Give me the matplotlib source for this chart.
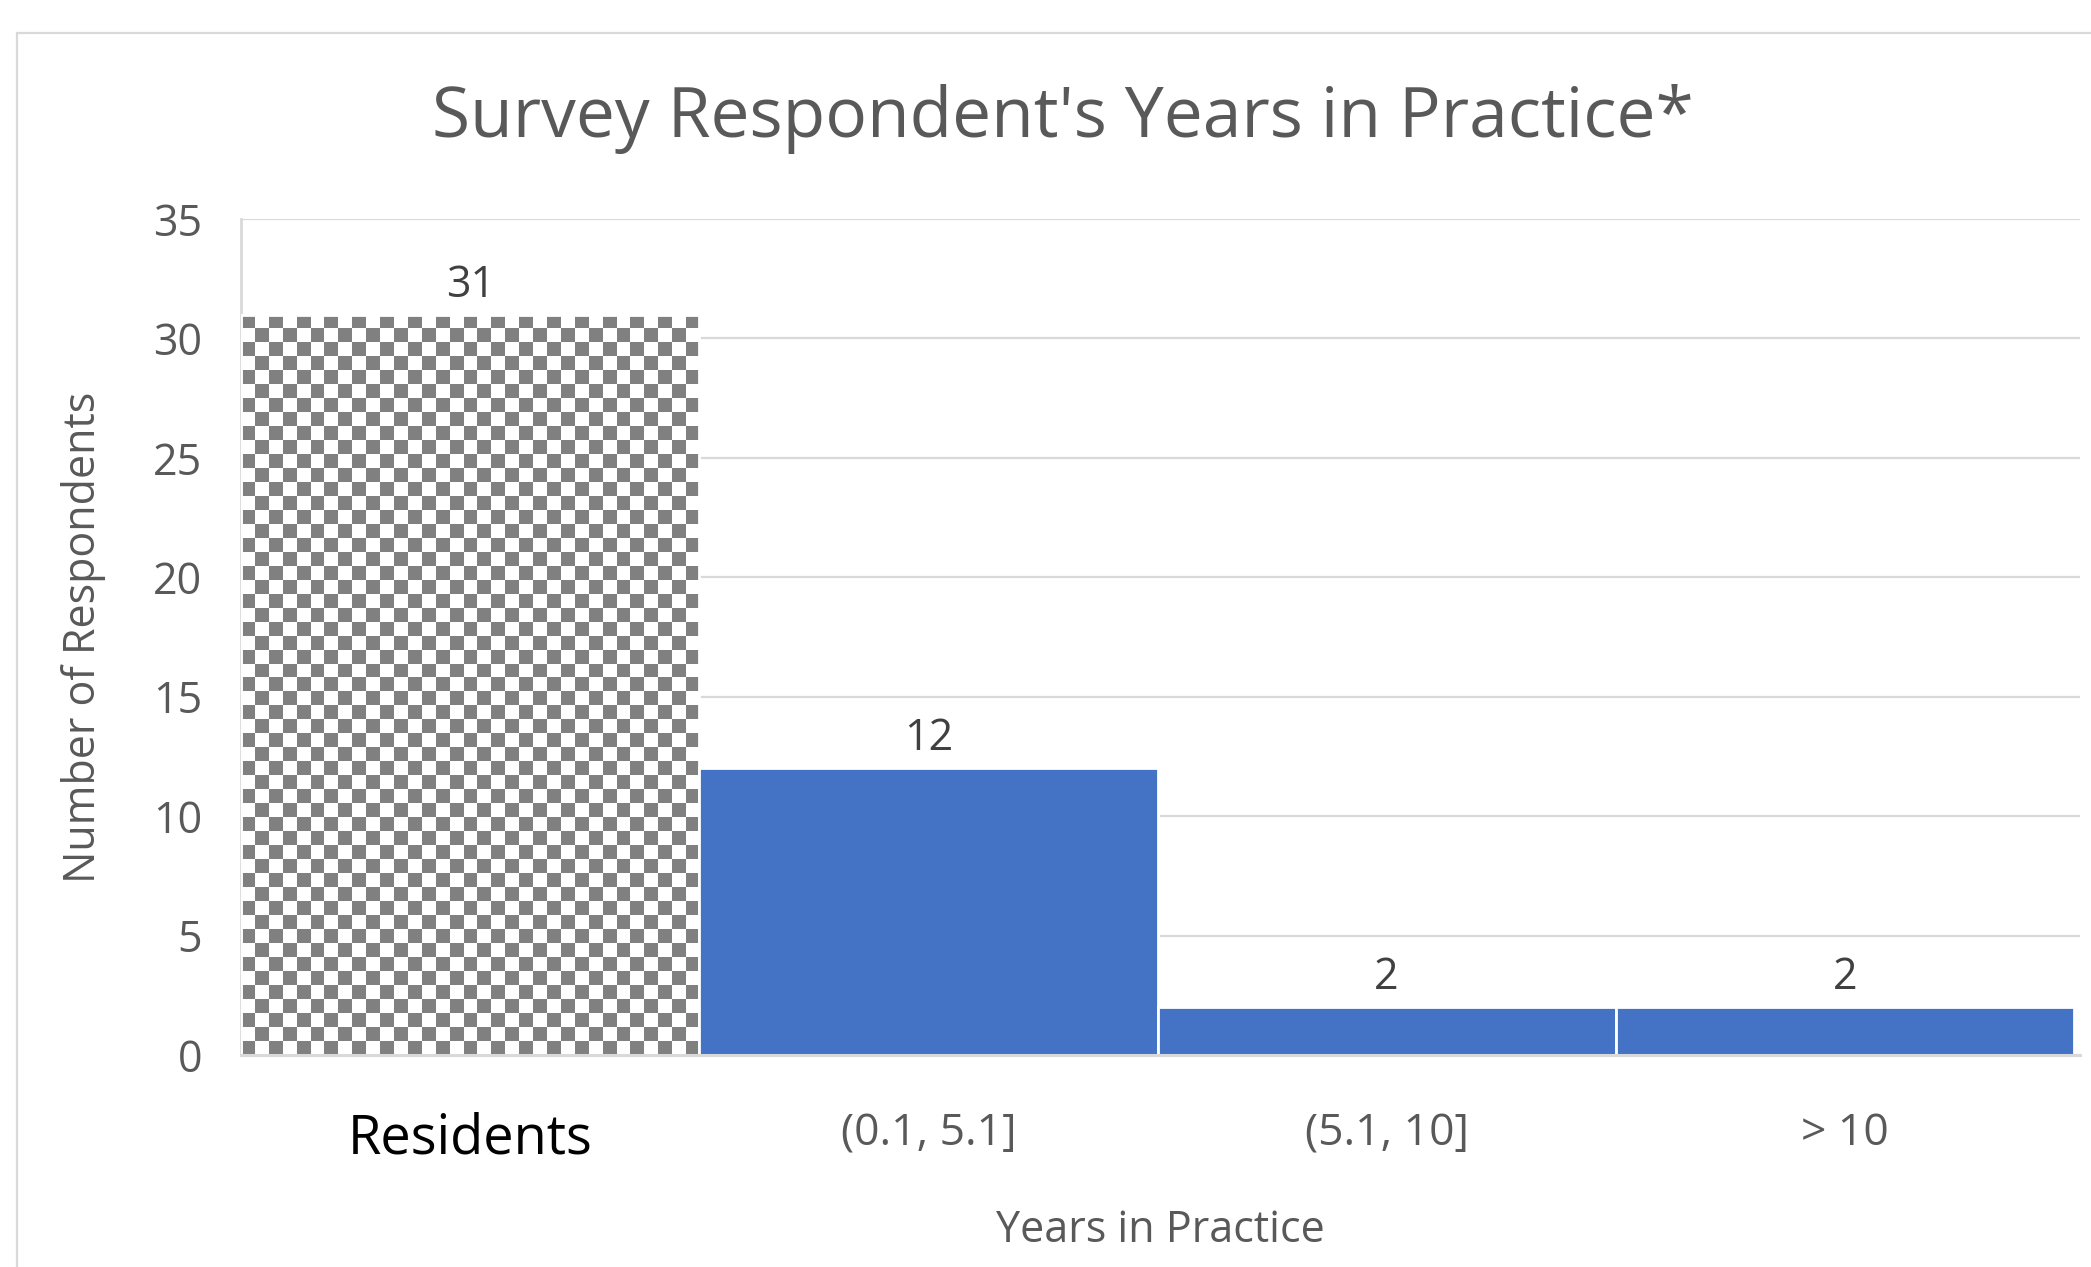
import matplotlib
matplotlib.use('Agg')
import matplotlib.pyplot as plt
from matplotlib.patches import Rectangle
import numpy as np

categories = ['Residents', '(0.1, 5.1]', '(5.1, 10]', '> 10']
counts = [31, 12, 2, 2]

plt.rcParams['font.family'] = ['Open Sans', 'DejaVu Sans']

fig = plt.figure(figsize=(20.91, 12.67), dpi=100)
ax = fig.add_axes([241 / 2091, 1 - 1055 / 1267, (2080 - 241) / 2091, (1055 - 219) / 1267])

# outer chart border, runs off the right / bottom like the screenshot
fig.patches.append(Rectangle((17 / 2091, -0.1), 1.2, 1 - 33 / 1267 + 0.1,
                             transform=fig.transFigure, fill=False,
                             edgecolor='#d9d9d9', linewidth=1.6))

x = np.arange(len(categories))
colors = ['none'] + ['#4472c4'] * (len(categories) - 1)
bars = ax.bar(x, counts, width=1.0, color=colors, edgecolor='white', linewidth=2, zorder=3)

# checkerboard fill for the Residents bar
nx, ny = 33, 53
checker = (np.indices((ny, nx)).sum(axis=0) % 2)
img = ax.imshow(checker, cmap=matplotlib.colors.ListedColormap(['#808080', 'white']),
                extent=(x[0] - 0.5, x[0] + 0.5, 0, counts[0]), aspect='auto',
                interpolation='nearest', zorder=2)
img.set_clip_path(bars[0])

ax.set_xlim(-0.5, 3.513)
ax.set_ylim(0, 35)
ax.set_yticks(range(0, 36, 5))
ax.set_xticks(x)
ax.set_xticklabels(categories)

ax.yaxis.grid(True, color='#d9d9d9', linewidth=1.6)
ax.set_axisbelow(True)
for side in ['top', 'right']:
    ax.spines[side].set_visible(False)
ax.spines['left'].set_color('#d9d9d9')
ax.spines['left'].set_linewidth(2)
ax.spines['bottom'].set_color('#d9d9d9')
ax.spines['bottom'].set_linewidth(2.2)
ax.spines['bottom'].set_zorder(4)

ax.tick_params(axis='y', length=0, pad=28, labelsize=31, labelcolor='#595959')
ax.tick_params(axis='x', length=0, pad=41, labelsize=32, labelcolor='#595959')
xl = ax.get_xticklabels()
xl[0].set_color('black')
xl[0].set_fontsize(39)

ax.bar_label(bars, labels=[str(c) for c in counts], padding=5, fontsize=31, color='#404040')

ax.set_title("Survey Respondent's Years in Practice*", fontsize=50, color='#595959',
             x=0.447, pad=59)
ax.set_ylabel('Number of Respondents', fontsize=31, color='#595959', labelpad=34)
ax.set_xlabel('Years in Practice', fontsize=31, color='#595959', labelpad=30)

fig.savefig('out.png', dpi=100)
